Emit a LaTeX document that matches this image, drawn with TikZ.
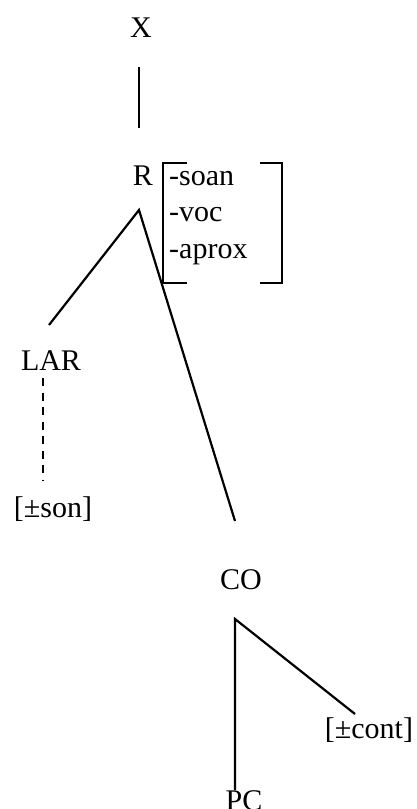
\documentclass[tikz,border=0pt]{standalone}
\usepackage{fontspec}
\setmainfont{Liberation Serif}
\begin{document}
\begin{tikzpicture}[x={(1pt,0)}, y={(0,-1pt)},
  lbl/.style={inner sep=0pt, anchor=base, font=\fontsize{30}{36}\selectfont},
  feat/.style={inner sep=0pt, anchor=base west, font=\fontsize{30}{36}\selectfont},
  edge/.style={line width=2.2pt},
  dashedge/.style={line width=2.4pt, dash pattern=on 8pt off 6.5pt},
  brk/.style={line width=2.2pt, line join=miter}]
\useasboundingbox (0,0) rectangle (416,809);
% nodes
\node[lbl] (X) at (141,37) {X};
\node[lbl] (R) at (143,185) {R};
\node[feat] (f1) at (169,185) {-soan};
\node[feat] (f2) at (169,221.5) {-voc};
\node[feat] (f3) at (169,258) {-aprox};
\node[lbl] (LAR) at (51,370) {LAR};
\node[lbl] (son) at (53,517) {[±son]};
\node[lbl] (CO) at (241,589) {CO};
\node[lbl] (cont) at (369,738) {[±cont]};
\node[lbl] (PC) at (244,810) {PC};
% connector end points
\coordinate (xb) at (139,67);
\coordinate (rt) at (139,128);
\coordinate (rapex) at (139,210);
\coordinate (lart) at (49,325);
\coordinate (cot) at (235,521);
\coordinate (larb) at (43,378);
\coordinate (sont) at (43,481);
\coordinate (coapex) at (235,619);
\coordinate (pct) at (235,790);
\coordinate (contt) at (355,714);
% connectors
\draw[edge] (xb) -- (rt);
\draw[edge] (lart) -- (rapex) -- (cot);
\draw[dashedge] (larb) -- (sont);
\draw[edge] (pct) -- (coapex) -- (contt);
% feature matrix brackets
\draw[brk] (187,163) -- (163,163) -- (163,283) -- (187,283);
\draw[brk] (260,163) -- (282,163) -- (282,283) -- (260,283);
\end{tikzpicture}
\end{document}
